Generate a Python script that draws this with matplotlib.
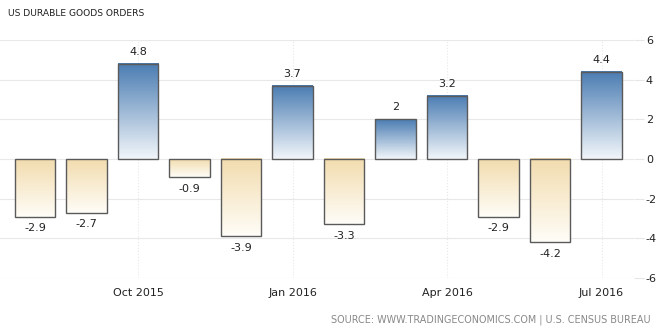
import numpy as np
import matplotlib.pyplot as plt
from matplotlib.colors import LinearSegmentedColormap

plt.rcParams['axes.unicode_minus'] = False

# monthly change in durable goods orders, Aug 2015 - Jul 2016
months = ['Aug 2015', 'Sep 2015', 'Oct 2015', 'Nov 2015', 'Dec 2015', 'Jan 2016',
          'Feb 2016', 'Mar 2016', 'Apr 2016', 'May 2016', 'Jun 2016', 'Jul 2016']
values = [-2.9, -2.7, 4.8, -0.9, -3.9, 3.7, -3.3, 2.0, 3.2, -2.9, -4.2, 4.4]
tick_months = ['Oct 2015', 'Jan 2016', 'Apr 2016', 'Jul 2016']
y_ticks = [-6, -4, -2, 0, 2, 4, 6]

blue = LinearSegmentedColormap.from_list('b', ['#f2f6fa', '#4a7cb2'])
tan = LinearSegmentedColormap.from_list('t', ['#fffdf8', '#f2dcae'])

fig = plt.figure(figsize=(6.72, 3.30), dpi=100)
ax = fig.add_axes([0, 1 - 278 / 330, 634 / 672, 238 / 330])

x = np.arange(len(values))
w = 0.78
grad = np.linspace(0, 1, 256).reshape(-1, 1)
for xi, v in zip(x, values):
    if v >= 0:
        ax.imshow(grad, cmap=blue, aspect='auto', origin='lower',
                  extent=(xi - w / 2, xi + w / 2, 0, v), zorder=2)
        ax.text(xi, v + 0.35, f'{v:g}', ha='center', va='bottom', fontsize=8, color='#222222')
    else:
        ax.imshow(grad, cmap=tan, aspect='auto', origin='lower',
                  extent=(xi - w / 2, xi + w / 2, v, 0), zorder=2)
        ax.text(xi, v - 0.35, f'{v:g}', ha='center', va='top', fontsize=8, color='#222222')
ax.bar(x, values, width=w, facecolor='none', edgecolor='#5a5a5a', linewidth=1.0, zorder=3)

ax.set_xlim(-0.68, 11.63)
ax.set_ylim(-6, 6)
ax.set_yticks(y_ticks)
ax.yaxis.tick_right()
ax.tick_params(axis='y', length=7, color='#e6e6e6', labelsize=8, labelcolor='#222222', pad=1.5)
ax.set_xticks([months.index(m) for m in tick_months])
ax.set_xticklabels(tick_months)
ax.tick_params(axis='x', length=0, labelsize=8, labelcolor='#222222', pad=7)
ax.grid(axis='y', color='#e8e8e8', linewidth=0.8, zorder=0)
ax.grid(axis='x', color='#e8e8e8', linewidth=0.8, linestyle=':', zorder=0)
for s in ax.spines.values():
    s.set_visible(False)

fig.text(8 / 672, 1 - 14 / 330, 'US DURABLE GOODS ORDERS', fontsize=6.6, color='#222222', va='center')
fig.text(651 / 672, 1 - 320 / 330, 'SOURCE: WWW.TRADINGECONOMICS.COM | U.S. CENSUS BUREAU',
         fontsize=6.9, color='#888888', ha='right', va='center')

fig.savefig('out.png', dpi=100)
